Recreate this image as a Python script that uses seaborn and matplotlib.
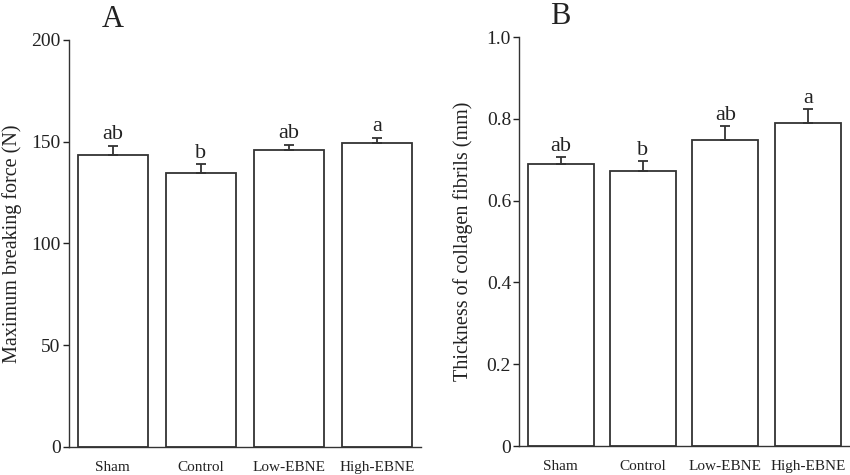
import matplotlib
matplotlib.use("Agg")
import matplotlib.pyplot as plt
import seaborn as sns
import pandas as pd

# Data
groups = ["Sham", "Control", "Low-EBNE", "High-EBNE"]
force_mean = [143.5, 134.5, 145.8, 149.4]
force_err = [4.5, 4.5, 2.8, 2.6]
force_letters = ["ab", "b", "ab", "a"]
fibril_mean = [0.689, 0.673, 0.749, 0.789]
fibril_err = [0.017, 0.024, 0.033, 0.035]
fibril_letters = ["ab", "b", "ab", "a"]

sns.set_theme(style="ticks")
plt.rcParams['font.family'] = ['Liberation Serif', 'DejaVu Serif']
plt.rcParams['axes.linewidth'] = 1.0

fig = plt.figure(figsize=(8.5, 4.75), dpi=100)
axA = fig.add_axes([0.081, 0.059, 0.414, 0.857])
axB = fig.add_axes([0.611, 0.061, 0.388, 0.861])


def draw_panel(ax, means, errs, letters, ylim, yticks, ticklabels, ylabel, panel, label_x):
    df = pd.DataFrame({"group": groups, "value": means})
    sns.barplot(data=df, x="group", y="value", color="white", edgecolor="#333333",
                linewidth=1.3, width=0.8, errorbar=None, ax=ax)
    ax.errorbar(range(len(groups)), means, yerr=[[0] * len(errs), errs], fmt="none",
                ecolor="#333333", elinewidth=1.3, capsize=3.5, capthick=1.3)
    for i, (m, e, lt) in enumerate(zip(means, errs, letters)):
        ax.annotate(lt, (i, m + e), xytext=(0, 4.5), textcoords="offset points",
                    ha="center", va="baseline", fontsize=16, color="#222222")
    ax.set_xlim(-0.5, 3.5)
    ax.set_ylim(*ylim)
    ax.set_yticks(yticks)
    ax.set_yticklabels(ticklabels, fontsize=14)
    ax.tick_params(axis="y", direction="out", length=4.5, width=1, pad=1.5, colors="#222222")
    ax.tick_params(axis="x", length=0, pad=10, labelsize=11, colors="#222222")
    ax.set_xlabel("")
    ax.set_ylabel(ylabel, fontsize=14.5, color="#222222")
    ax.yaxis.set_label_coords(label_x, 0.5)
    for s in ["top", "right"]:
        ax.spines[s].set_visible(False)
    for s in ["left", "bottom"]:
        ax.spines[s].set_color("#333333")
    ax.text(0, 1.031, panel, transform=ax.get_xaxis_transform(), ha="center",
            va="baseline", fontsize=22, color="#222222")


draw_panel(axA, force_mean, force_err, force_letters, (0, 200), [0, 50, 100, 150, 200],
           ["0", "50", "100", "150", "200"], "Maximum breaking force (N)", "A", -0.134)
draw_panel(axB, fibril_mean, fibril_err, fibril_letters, (0, 1.0), [0, 0.2, 0.4, 0.6, 0.8, 1.0],
           ["0", "0.2", "0.4", "0.6", "0.8", "1.0"], "Thickness of collagen fibrils (mm)", "B", -0.142)

fig.savefig("out.png", dpi=100)
